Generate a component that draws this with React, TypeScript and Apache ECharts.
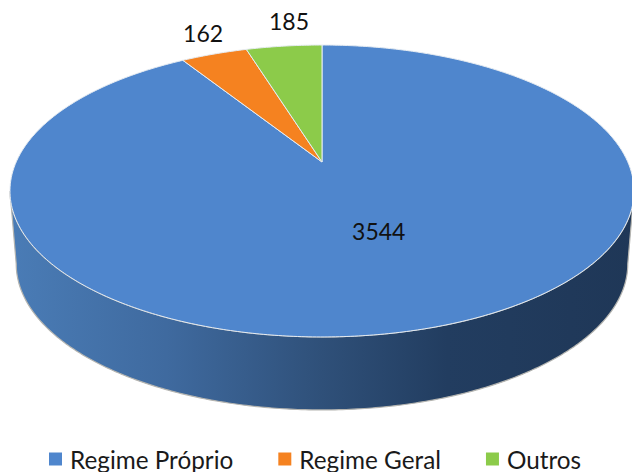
import React, { useEffect, useRef } from "react";
import * as echarts from "echarts";

const categories = ["Regime Próprio", "Regime Geral", "Outros"];
const values = [3544, 162, 185];
const colors = ["#4f86cd", "#f58220", "#8ccb4a"];
const labelOffsets = [[10, -5], [-11, -21], [5, -25]];
const labelRadius = [0.5, 1, 1];

const total = values.reduce((a, b) => a + b, 0);
const APEX_X = 322, APEX_Y = 162, SCALE_X = 305.8, SCALE_Y = 140.2, PERSPECTIVE = 0.1986;
const DEPTH = 73, BOTTOM_SHRINK = 0.98;
const FONT = "Lato, 'Open Sans', sans-serif";

function project(theta: number, r = 1): [number, number] {
  const u = r * Math.sin(theta), v = r * Math.cos(theta);
  const w = 1 + PERSPECTIVE * v;
  return [APEX_X + (SCALE_X * u) / w, APEX_Y - (SCALE_Y * v) / w];
}
function lower(p: [number, number]): [number, number] {
  return [APEX_X + (p[0] - APEX_X) * BOTTOM_SHRINK, p[1] + DEPTH];
}
function arc(a: number, b: number): [number, number][] {
  const n = Math.max(2, Math.ceil(Math.abs(b - a) / 0.01));
  const pts: [number, number][] = [];
  for (let i = 0; i <= n; i++) pts.push(project(a + ((b - a) * i) / n));
  return pts;
}

const FRONT_A = Math.acos(-PERSPECTIVE);
const FRONT_B = 2 * Math.PI - FRONT_A;

function makeRender(index: number) {
  return (_params: any, api: any) => {
    const value = api.value(0);
    const before = values.slice(0, index).reduce((a, b) => a + b, 0);
    const start = (before / total) * 2 * Math.PI;
    const end = start + (value / total) * 2 * Math.PI;
    const children: any[] = [];
    const wa = Math.max(start, FRONT_A), wb = Math.min(end, FRONT_B);
    if (wb > wa) {
      const topEdge = arc(wa, wb);
      const wall = [...topEdge, ...topEdge.slice().reverse().map(lower)];
      children.push({
        type: "polygon",
        shape: { points: wall },
        style: {
          fill: new echarts.graphic.LinearGradient(0, 0, 1, 0, [
            { offset: 0, color: "#4a7cb6" },
            { offset: 0.25, color: "#3f6a9f" },
            { offset: 0.5, color: "#2f5079" },
            { offset: 0.7, color: "#223d60" },
            { offset: 1, color: "#1f3757" },
          ]),
          stroke: "#b4b4b0",
          lineWidth: 1.2,
        },
      });
    }
    const slice = [[APEX_X, APEX_Y], ...arc(start, end)];
    children.push({
      type: "polygon",
      shape: { points: slice },
      style: { fill: colors[index], stroke: "#e6ecf2", lineWidth: 1 },
    });
    const mid = (start + end) / 2;
    const p = project(mid, labelRadius[index]);
    children.push({
      type: "text",
      x: p[0] + labelOffsets[index][0],
      y: p[1] + labelOffsets[index][1],
      style: {
        text: String(value),
        fill: "#111111",
        font: `23px ${FONT}`,
        align: "center",
        verticalAlign: "middle",
      },
    });
    return { type: "group", children };
  };
}

export default function App() {
  const ref = useRef<HTMLDivElement>(null);
  useEffect(() => {
    const chart = echarts.init(ref.current!, undefined, { renderer: "svg" });
    chart.setOption({
      animation: false,
      backgroundColor: "#ffffff",
      legend: {
        data: categories,
        left: 49,
        top: 447,
        padding: 0,
        icon: "rect",
        itemWidth: 13,
        itemHeight: 13,
        itemGap: 45,
        textStyle: { fontFamily: FONT, fontSize: 24.3, lineHeight: 24, color: "#1a1a1a", padding: [0, 0, 0, 3] },
        selectedMode: false,
      },
      series: categories.map((name, i) => ({
        type: "custom",
        name,
        coordinateSystem: "none",
        silent: true,
        itemStyle: { color: colors[i] },
        data: [[values[i]]],
        renderItem: makeRender(i),
      })),
    });
    return () => chart.dispose();
  }, []);
  return <div ref={ref} style={{ position: "fixed", left: 0, top: 0, width: 632, height: 472 }} />;
}
